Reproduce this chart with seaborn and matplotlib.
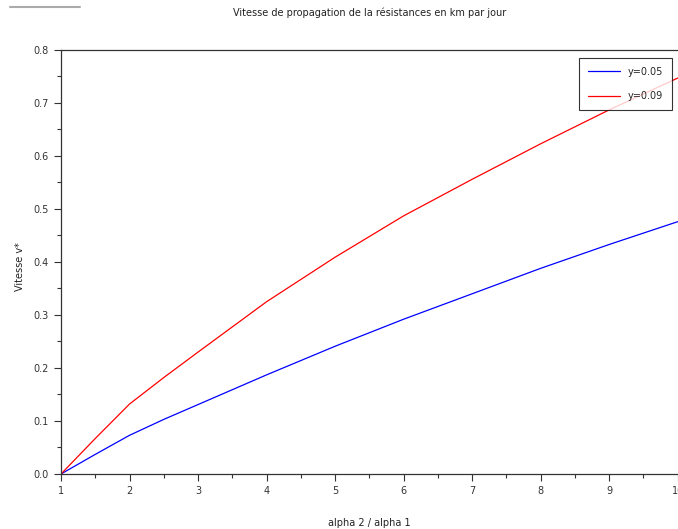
import numpy as np
import pandas as pd
import matplotlib
matplotlib.use('Agg')
import matplotlib.pyplot as plt
import seaborn as sns
from matplotlib.ticker import MultipleLocator, FormatStrFormatter
from matplotlib.lines import Line2D

sns.set_style("ticks")

ratio = [1, 1.5, 2, 2.5, 3, 4, 5, 6, 7, 8, 9, 10]
v_005 = [0.0, 0.037, 0.073, 0.103, 0.131, 0.187, 0.241, 0.292, 0.340, 0.388, 0.433, 0.476]
v_009 = [0.0, 0.067, 0.132, 0.182, 0.230, 0.325, 0.409, 0.487, 0.556, 0.623, 0.687, 0.747]
labels = ['y=0.05', 'y=0.09']

fig = plt.figure(figsize=(6.78, 5.29), dpi=100)
ax = fig.add_axes([0.090, 0.104, 0.9095, 0.8015])

sns.lineplot(x=ratio, y=v_005, color='#0000ff', lw=0.9, label=labels[0], ax=ax)
sns.lineplot(x=ratio, y=v_009, color='#ff0000', lw=0.9, label=labels[1], ax=ax)

ax.set_xlim(1, 10)
ax.set_ylim(0, 0.8)
ax.xaxis.set_major_locator(MultipleLocator(1))
ax.xaxis.set_minor_locator(MultipleLocator(0.5))
ax.yaxis.set_major_locator(MultipleLocator(0.1))
ax.yaxis.set_minor_locator(MultipleLocator(0.05))
ax.yaxis.set_major_formatter(FormatStrFormatter('%.1f'))
ax.tick_params(which='major', length=5, width=0.8, labelsize=7, colors='#333333', pad=4)
ax.tick_params(which='minor', length=3, width=0.8, colors='#333333')

for s in ['left', 'bottom', 'top']:
    ax.spines[s].set_color('#333333')
    ax.spines[s].set_linewidth(0.9)
ax.spines['right'].set_visible(False)

ax.set_xlabel('alpha 2 / alpha 1', fontsize=7, color='#222222')
ax.set_ylabel('Vitesse v*', fontsize=7, color='#222222')
ax.xaxis.set_label_coords(0.5, -0.104)
ax.yaxis.set_label_coords(-0.058, 0.49)
fig.text(0.545, 0.975, 'Vitesse de propagation de la résistances en km par jour',
         ha='center', va='center', fontsize=7, color='#222222')

leg = ax.legend(loc='upper right', bbox_to_anchor=(0.991, 0.981), borderaxespad=0,
                fontsize=7, frameon=True, fancybox=False, handlelength=3.3,
                borderpad=0.9, labelspacing=1.5, handletextpad=0.8)
leg.get_frame().set_edgecolor('black')
leg.get_frame().set_linewidth(0.8)

fig.add_artist(Line2D([0.015, 0.118], [0.987, 0.987], color='#aaaaaa', lw=1.5))

fig.savefig('out.png', dpi=100)
